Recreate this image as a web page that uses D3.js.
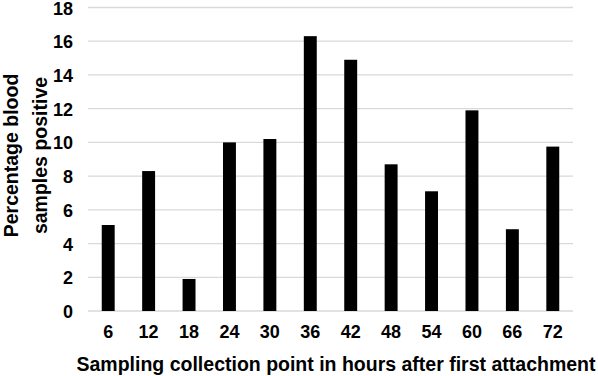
<!DOCTYPE html>
<html>
<head>
<meta charset="utf-8">
<script src="https://cdn.jsdelivr.net/npm/d3@7"></script>
<style>
  html, body { margin: 0; padding: 0; background: #fff; }
  svg { display: block; font-family: "Liberation Sans", Arial, sans-serif; }
</style>
</head>
<body>
<svg id="chart" width="598" height="376"></svg>
<script>
const categories = ["6", "12", "18", "24", "30", "36", "42", "48", "54", "60", "66", "72"];
const values = [5.1, 8.3, 1.9, 10.0, 10.2, 16.3, 14.9, 8.7, 7.1, 11.9, 4.85, 9.75];
const yTicks = [0, 2, 4, 6, 8, 10, 12, 14, 16, 18];
const xTitle = "Sampling collection point in hours after first attachment";
const yTitleLines = ["Percentage blood", "samples positive"];

const svg = d3.select("#chart");
const plotLeft = 88, plotRight = 573, plotTop = 7.5, plotBottom = 311;

const x = d3.scaleBand().domain(categories).range([plotLeft, plotRight]).paddingInner(0.68).paddingOuter(0.34);
const y = d3.scaleLinear().domain([0, 18]).range([plotBottom, plotTop]);

// gridlines
svg.append("g").selectAll("line").data(yTicks).join("line")
  .attr("x1", plotLeft).attr("x2", plotRight)
  .attr("y1", d => y(d)).attr("y2", d => y(d))
  .attr("stroke", "#d9d9d9").attr("stroke-width", 1.3);

// y axis labels
const yAxis = d3.axisLeft(y).tickValues(yTicks).tickSize(0).tickPadding(0);
svg.append("g").attr("transform", `translate(73,0.8)`).call(yAxis)
  .call(g => g.select(".domain").remove())
  .selectAll("text")
  .attr("font-size", 18).attr("font-weight", "bold").attr("fill", "#000")
  .attr("font-family", "Liberation Sans, Arial, sans-serif");

// bars
svg.append("g").selectAll("rect").data(values).join("rect")
  .attr("x", (d, i) => x(categories[i]))
  .attr("width", x.bandwidth())
  .attr("y", d => y(d))
  .attr("height", d => y(0) - y(d))
  .attr("fill", "#000");

// x axis labels
const xAxis = d3.axisBottom(x).tickSize(0).tickPadding(0);
svg.append("g").attr("transform", `translate(0,${plotBottom + 14})`).call(xAxis)
  .call(g => g.select(".domain").remove())
  .selectAll("text")
  .attr("font-size", 18).attr("font-weight", "bold").attr("fill", "#000")
  .attr("font-family", "Liberation Sans, Arial, sans-serif");

// x title
svg.append("text")
  .attr("x", 336).attr("y", 370.5)
  .attr("text-anchor", "middle")
  .attr("font-size", 19.5).attr("font-weight", "bold").attr("fill", "#000")
  .text(xTitle);

// y title
svg.append("g").selectAll("text").data(yTitleLines).join("text")
  .attr("transform", (d, i) => `translate(${i === 0 ? 18 : 47},155.5) rotate(-90)`)
  .attr("text-anchor", "middle")
  .attr("font-size", 19.5).attr("font-weight", "bold").attr("fill", "#000")
  .text(d => d);
</script>
</body>
</html>
